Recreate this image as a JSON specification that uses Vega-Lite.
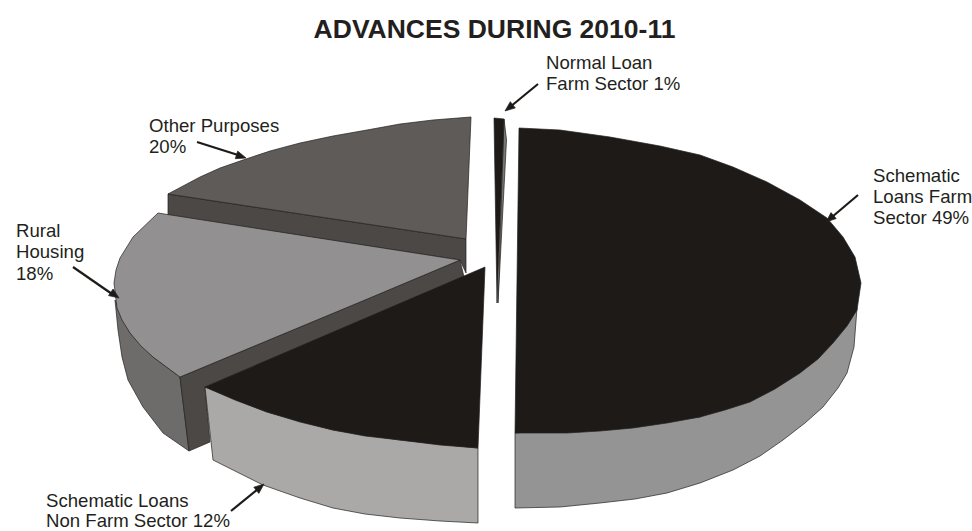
{
"$schema":"https://vega.github.io/schema/vega-lite/v6.json",
"autosize":{"type":"none"},
"width":972,"height":531,"padding":0,
"background":"white",
"view":{"stroke":null},
"datasets":{
"shapes":[
{"piece":"Main side","x":515,"y":433},{"piece":"Main side","x":515,"y":508},{"piece":"Main side","x":560,"y":507},{"piece":"Main side","x":600,"y":503},{"piece":"Main side","x":635,"y":499},{"piece":"Main side","x":667,"y":493},{"piece":"Main side","x":700,"y":483},{"piece":"Main side","x":733,"y":470},{"piece":"Main side","x":760,"y":456},{"piece":"Main side","x":783,"y":440},{"piece":"Main side","x":805,"y":423},{"piece":"Main side","x":823,"y":407},{"piece":"Main side","x":838,"y":388},{"piece":"Main side","x":847,"y":373},{"piece":"Main side","x":854,"y":347},{"piece":"Main side","x":857,"y":308},{"piece":"Main side","x":840,"y":332},{"piece":"Main side","x":700,"y":417},{"piece":"Main side","x":515,"y":433},
{"piece":"Main top","x":519,"y":128},{"piece":"Main top","x":560,"y":130},{"piece":"Main top","x":610,"y":137},{"piece":"Main top","x":660,"y":146},{"piece":"Main top","x":700,"y":155},{"piece":"Main top","x":733,"y":167},{"piece":"Main top","x":767,"y":182},{"piece":"Main top","x":800,"y":200},{"piece":"Main top","x":827,"y":218},{"piece":"Main top","x":843,"y":237},{"piece":"Main top","x":855,"y":257},{"piece":"Main top","x":861,"y":283},{"piece":"Main top","x":857,"y":310},{"piece":"Main top","x":847,"y":326},{"piece":"Main top","x":833,"y":343},{"piece":"Main top","x":818,"y":359},{"piece":"Main top","x":800,"y":373},{"piece":"Main top","x":775,"y":389},{"piece":"Main top","x":750,"y":402},{"piece":"Main top","x":725,"y":410},{"piece":"Main top","x":700,"y":417},{"piece":"Main top","x":667,"y":423},{"piece":"Main top","x":633,"y":428},{"piece":"Main top","x":600,"y":431},{"piece":"Main top","x":567,"y":433},{"piece":"Main top","x":515,"y":433},{"piece":"Main top","x":519,"y":128},
{"piece":"Normal side","x":504,"y":119},{"piece":"Normal side","x":506.5,"y":140},{"piece":"Normal side","x":498,"y":303},{"piece":"Normal side","x":504,"y":119},
{"piece":"Normal top","x":494,"y":118},{"piece":"Normal top","x":504,"y":119},{"piece":"Normal top","x":497,"y":303},{"piece":"Normal top","x":494,"y":118},
{"piece":"Other cut","x":168,"y":194},{"piece":"Other cut","x":168,"y":216},{"piece":"Other cut","x":460,"y":260},{"piece":"Other cut","x":466,"y":273},{"piece":"Other cut","x":466,"y":239},{"piece":"Other cut","x":168,"y":194},
{"piece":"Other top","x":471,"y":117},{"piece":"Other top","x":433,"y":120},{"piece":"Other top","x":400,"y":124},{"piece":"Other top","x":367,"y":130},{"piece":"Other top","x":333,"y":136},{"piece":"Other top","x":300,"y":143},{"piece":"Other top","x":270,"y":151},{"piece":"Other top","x":243,"y":160},{"piece":"Other top","x":220,"y":168},{"piece":"Other top","x":200,"y":177},{"piece":"Other top","x":168,"y":194},{"piece":"Other top","x":466,"y":239},{"piece":"Other top","x":471,"y":117},
{"piece":"Rural outer","x":115,"y":300},{"piece":"Rural outer","x":118,"y":330},{"piece":"Rural outer","x":122,"y":357},{"piece":"Rural outer","x":128,"y":380},{"piece":"Rural outer","x":143,"y":407},{"piece":"Rural outer","x":163,"y":433},{"piece":"Rural outer","x":189,"y":451},{"piece":"Rural outer","x":180,"y":377},{"piece":"Rural outer","x":153,"y":357},{"piece":"Rural outer","x":130,"y":333},{"piece":"Rural outer","x":115,"y":300},
{"piece":"Rural cut","x":460,"y":260},{"piece":"Rural cut","x":464,"y":277},{"piece":"Rural cut","x":205,"y":387},{"piece":"Rural cut","x":210,"y":442},{"piece":"Rural cut","x":189,"y":451},{"piece":"Rural cut","x":180,"y":377},{"piece":"Rural cut","x":460,"y":260},
{"piece":"Rural top","x":158,"y":213},{"piece":"Rural top","x":460,"y":260},{"piece":"Rural top","x":365,"y":300},{"piece":"Rural top","x":180,"y":377},{"piece":"Rural top","x":153,"y":357},{"piece":"Rural top","x":141,"y":346},{"piece":"Rural top","x":130,"y":333},{"piece":"Rural top","x":122,"y":320},{"piece":"Rural top","x":117,"y":308},{"piece":"Rural top","x":114,"y":283},{"piece":"Rural top","x":116,"y":270},{"piece":"Rural top","x":120,"y":258},{"piece":"Rural top","x":133,"y":237},{"piece":"Rural top","x":158,"y":213},
{"piece":"Nonfarm side","x":205,"y":387},{"piece":"Nonfarm side","x":213,"y":460},{"piece":"Nonfarm side","x":263,"y":485},{"piece":"Nonfarm side","x":300,"y":498},{"piece":"Nonfarm side","x":333,"y":508},{"piece":"Nonfarm side","x":365,"y":514},{"piece":"Nonfarm side","x":400,"y":518},{"piece":"Nonfarm side","x":440,"y":521},{"piece":"Nonfarm side","x":478,"y":523},{"piece":"Nonfarm side","x":478,"y":448},{"piece":"Nonfarm side","x":400,"y":440},{"piece":"Nonfarm side","x":333,"y":430},{"piece":"Nonfarm side","x":267,"y":412},{"piece":"Nonfarm side","x":205,"y":387},
{"piece":"Nonfarm top","x":485,"y":267},{"piece":"Nonfarm top","x":478,"y":448},{"piece":"Nonfarm top","x":440,"y":445},{"piece":"Nonfarm top","x":400,"y":440},{"piece":"Nonfarm top","x":365,"y":436},{"piece":"Nonfarm top","x":333,"y":430},{"piece":"Nonfarm top","x":300,"y":422},{"piece":"Nonfarm top","x":267,"y":412},{"piece":"Nonfarm top","x":235,"y":400},{"piece":"Nonfarm top","x":205,"y":387},{"piece":"Nonfarm top","x":485,"y":267},
{"piece":"Head 1","x":505,"y":111},{"piece":"Head 1","x":515.3,"y":107.9},{"piece":"Head 1","x":510.3,"y":101.7},{"piece":"Head 1","x":505,"y":111},
{"piece":"Head 2","x":826,"y":222},{"piece":"Head 2","x":836.2,"y":218.6},{"piece":"Head 2","x":831,"y":212.6},{"piece":"Head 2","x":826,"y":222},
{"piece":"Head 3","x":246,"y":158},{"piece":"Head 3","x":235.3,"y":158.7},{"piece":"Head 3","x":237.7,"y":151.1},{"piece":"Head 3","x":246,"y":158},
{"piece":"Head 4","x":119,"y":298},{"piece":"Head 4","x":108.5,"y":295.6},{"piece":"Head 4","x":113.1,"y":289},{"piece":"Head 4","x":119,"y":298},
{"piece":"Head 5","x":264,"y":484},{"piece":"Head 5","x":258.8,"y":493.4},{"piece":"Head 5","x":253.8,"y":487.2},{"piece":"Head 5","x":264,"y":484}
],
"shafts":[
{"a":"n","x":538,"y":84},{"a":"n","x":510,"y":107},
{"a":"s","x":858,"y":195},{"a":"s","x":832,"y":217},
{"a":"o","x":197,"y":142},{"a":"o","x":238,"y":155},
{"a":"r","x":73,"y":267},{"a":"r","x":112,"y":294},
{"a":"f","x":231,"y":511},{"a":"f","x":258,"y":489}
],
"labels":[
{"t":"Normal Loan","x":546,"y":63},{"t":"Farm Sector 1%","x":546,"y":84},
{"t":"Schematic","x":873,"y":176},{"t":"Loans Farm","x":873,"y":197},{"t":"Sector 49%","x":873,"y":218},
{"t":"Other Purposes","x":149,"y":126},{"t":"20%","x":149,"y":147},
{"t":"Rural","x":16,"y":231},{"t":"Housing","x":16,"y":252},{"t":"18%","x":16,"y":274},
{"t":"Schematic Loans","x":46,"y":501},{"t":"Non Farm Sector 12%","x":46,"y":521}
],
"heading":[{"t":"ADVANCES DURING 2010-11","x":494.5,"y":30}]
},
"layer":[
{"data":{"name":"shapes"},
 "transform":[{"window":[{"op":"row_number","as":"seq"}]}],
 "mark":{"type":"line","stroke":"#231f20","strokeWidth":0.7,"strokeJoin":"miter"},
 "encoding":{
  "x":{"field":"x","type":"quantitative","scale":{"domain":[0,972],"nice":false,"zero":false},"axis":null},
  "y":{"field":"y","type":"quantitative","scale":{"domain":[531,0],"nice":false,"zero":false},"axis":null},
  "detail":{"field":"piece"},
  "order":{"field":"seq","type":"quantitative"},
  "fill":{"field":"piece","type":"nominal","legend":null,"sort":null,"scale":{
   "domain":["Main side","Main top","Normal side","Normal top","Other cut","Other top","Rural outer","Rural cut","Rural top","Nonfarm side","Nonfarm top","Head 1","Head 2","Head 3","Head 4","Head 5"],
   "range":["#959495","#1e1a17","#7a7877","#1e1a17","#4c4845","#5f5b59","#6e6c6b","#4c4845","#929091","#aaa9a7","#1e1a17","#1e1a17","#1e1a17","#1e1a17","#1e1a17","#1e1a17"]}}
 }},
{"data":{"name":"shafts"},
 "mark":{"type":"line","stroke":"#1e1a17","strokeWidth":2.2},
 "encoding":{
  "x":{"field":"x","type":"quantitative"},
  "y":{"field":"y","type":"quantitative"},
  "detail":{"field":"a"}
 }},
{"data":{"name":"labels"},
 "mark":{"type":"text","align":"left","baseline":"middle","font":"Liberation Sans","fontSize":18.6,"fill":"#231f20"},
 "encoding":{
  "x":{"field":"x","type":"quantitative"},
  "y":{"field":"y","type":"quantitative"},
  "text":{"field":"t"}
 }},
{"data":{"name":"heading"},
 "mark":{"type":"text","align":"center","baseline":"middle","font":"Liberation Sans","fontSize":26.5,"fontWeight":"bold","fill":"#231f20"},
 "encoding":{
  "x":{"field":"x","type":"quantitative"},
  "y":{"field":"y","type":"quantitative"},
  "text":{"field":"t"}
 }}
]
}
